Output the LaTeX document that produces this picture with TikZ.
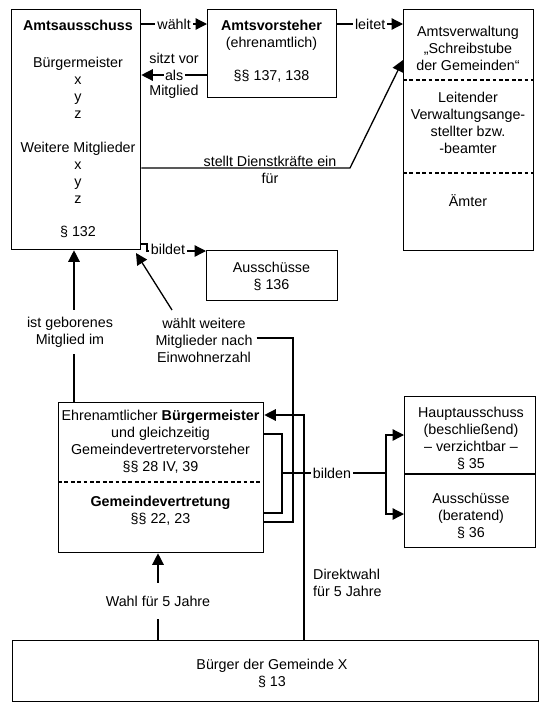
\documentclass[tikz,border=0pt]{standalone}
\usepackage{fontspec}
\setmainfont{Liberation Sans}
\usetikzlibrary{arrows.meta}
\begin{document}
\begin{tikzpicture}[x=1pt,y=-1pt,
  every node/.style={font=\fontsize{14.3pt}{17pt}\selectfont, inner sep=0pt},
  box/.style={draw, line width=1.3pt, rectangle, inner sep=0pt, anchor=north west},
  txt/.style={align=center},
  ln/.style={line width=1.3pt},
  arr/.style={line width=1.3pt, -{Triangle[length=11.5pt,width=11.5pt]}},
  lbl/.style={fill=white, inner sep=2pt, align=center},
  dsh/.style={line width=1.1pt, dash pattern=on 3.8pt off 2.6pt}]
\useasboundingbox (0,0) rectangle (546,705);
% boxes
\node[box, minimum width=129, minimum height=240] (aus) at (11,9) {};
\node[box, minimum width=129, minimum height=88] (vor) at (207,9) {};
\node[box, minimum width=130, minimum height=241] (verw) at (403,9) {};
\node[box, minimum width=131, minimum height=50] (a136) at (206,250) {};
\node[box, minimum width=205, minimum height=150] (bm) at (58,402) {};
\node[box, minimum width=131, minimum height=151] (haupt) at (404,396) {};
\node[box, minimum width=526, minimum height=61] (buerger) at (12,640) {};
% dividers
\draw[dsh] (verw.west |- 0,80) -- (verw.east |- 0,80);
\draw[dsh] (verw.west |- 0,173) -- (verw.east |- 0,173);
\draw[dsh] (bm.west |- 0,482) -- (bm.east |- 0,482);
\draw[ln] (haupt.west |- 0,474) -- (haupt.east |- 0,474);
% texts in boxes
\node[txt] (austxt) at (78,128.5) {\textbf{Amtsausschuss}\\[20pt]Bürgermeister\\x\\y\\z\\[17pt]Weitere Mitglieder\\x\\y\\z\\[16pt]§ 132};
\node[txt] (vortxt) at (271.5,51) {\textbf{Amtsvorsteher}\\(ehrenamtlich)\\[16pt]§§ 137, 138};
\node[txt] (verw1) at (468,48) {Amtsverwaltung\\„Schreibstube\\der Gemeinden“};
\node[txt] (verw2) at (468,123) {Leitender\\Verwaltungsange-\\stellter bzw.\\-beamter};
\node[txt] (verw3) at (468,201) {Ämter};
\node[txt] (a136txt) at (271.5,276) {Ausschüsse\\§ 136};
\node[txt] (bm1) at (160.5,442) {Ehrenamtlicher \textbf{Bürgermeister}\\und gleichzeitig\\Gemeindevertretervorsteher\\§§ 28 IV, 39};
\node[txt] (bm2) at (160.5,511) {\textbf{Gemeindevertretung}\\§§ 22, 23};
\node[txt] (haupt1) at (471,438) {Hauptausschuss\\(beschließend)\\– verzichtbar –\\§ 35};
\node[txt] (haupt2) at (471,515.5) {Ausschüsse\\(beratend)\\§ 36};
\node[txt] (buergertxt) at (272,673) {Bürger der Gemeinde X\\§ 13};
% top connectors
\draw[arr] (aus.east |- 0,24) -- (vor.west |- 0,24) node[midway, lbl] (lwaehlt) {wählt};
\draw[arr] (vor.west |- 0,75) -- (aus.east |- 0,75) node[midway, lbl, inner sep=1.5pt] (lals) {als};
\node (lsitzt) at (174,58) {sitzt vor};
\node (lmitgl) at (174,92) {Mitglied};
\draw[arr] (vor.east |- 0,24) -- (verw.west |- 0,24) node[midway, lbl] (lleitet) {leitet};
\draw[arr] (aus.east |- 0,168) -- (350,168) -- (verw.west |- 0,60);
\node[txt] (lstellt) at (270,169.5) {stellt Dienstkräfte ein\\für};
\draw[arr] (aus.east |- 0,244) -- (147,244) -- (147,251) -- (a136.west |- 0,251);
\node[lbl] (lbildet) at (168,249) {bildet};
% middle connectors
\draw[arr] (bm.north -| 74,0) -- (aus.south -| 74,0);
\node[lbl, inner ysep=7pt] (lgeb) at (70,332) {ist geborenes\\Mitglied im};
\node[txt, inner xsep=4pt] (ww) at (204,340) {wählt weitere\\Mitglieder nach\\Einwohnerzahl};
\coordinate (w1) at (172,310);
\coordinate (w2) at (136,253);
\draw[arr] (w1) -- (w2);
\draw[ln] (ww.east |- 0,338) -- (293,338) -- (293,522) -- (bm.east |- 0,522);
\draw[arr] (buerger.north -| 304,0) -- (304,415) -- (bm.east |- 0,415);
\draw[ln] (bm.east |- 0,434) -- (282,434) -- (282,513) -- (bm.east |- 0,513);
\coordinate (bj) at (386,473);
\draw[ln] (282,473) -- (bj);
\node[lbl] (lbilden) at (332,473) {bilden};
\draw[arr] (bj) -- (386,435) -- (haupt.west |- 0,435);
\draw[arr] (bj) -- (386,514) -- (haupt.west |- 0,514);
\node[anchor=west, align=left] (ldirekt) at (313,583) {Direktwahl\\für 5 Jahre};
% bottom
\draw[arr] (buerger.north -| 158,0) -- (bm.south -| 158,0);
\node[lbl, inner ysep=13pt] (lwahl) at (158,601) {Wahl für 5 Jahre};
\end{tikzpicture}
\end{document}
